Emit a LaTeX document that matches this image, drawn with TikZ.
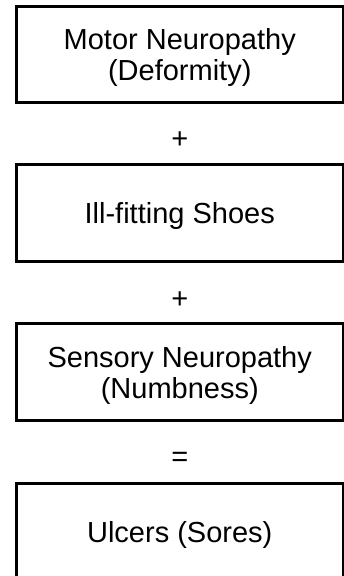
\documentclass[tikz,border=0pt]{standalone}
\usepackage{fontspec}
\setmainfont{Liberation Sans}
\begin{document}
\begin{tikzpicture}[x=1pt,y=-1pt,
  box/.style={draw=black, line width=3pt, minimum width=326.5pt, minimum height=96.8pt,
    inner sep=0pt, align=center, font=\fontsize{29}{31}\selectfont},
  op/.style={font=\fontsize{29}{31}\selectfont, inner sep=0pt, anchor=base}]
\useasboundingbox (0,0) rectangle (344,576);
\node[box] (motor) at (179.75,54.4) {Motor Neuropathy\\\smash{(Deformity)}};
\node[op] (plusA) at (179.75,148.2) {+};
\node[box, text height=20.8pt, text depth=0pt] (shoes) at (179.75,213.2) {Ill-fitting Shoes};
\node[op] (plusB) at (179.75,308) {+};
\node[box] (sensory) at (179.75,372) {Sensory Neuropathy\\\smash{(Numbness)}};
\node[op] (equals) at (179.75,466) {=};
\node[box, text height=20.8pt, text depth=0pt] (ulcers) at (179.75,532.3) {Ulcers (Sores)};
\end{tikzpicture}
\end{document}
